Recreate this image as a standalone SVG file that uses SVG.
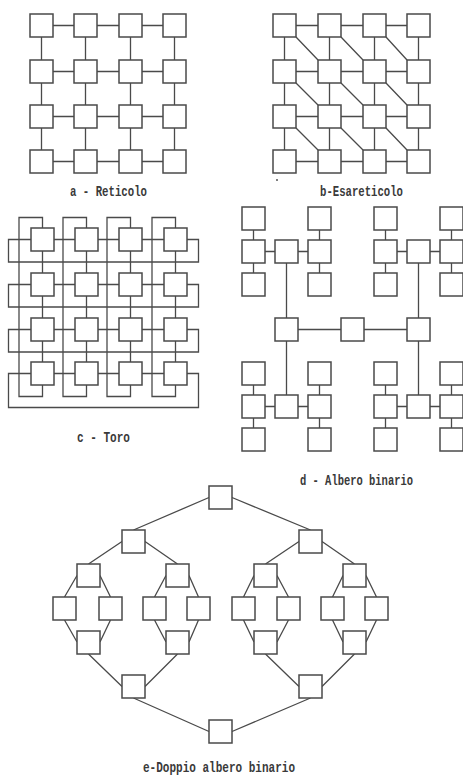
<svg xmlns="http://www.w3.org/2000/svg" width="463" height="778" viewBox="0 0 463 778">
<style>
.n{fill:#fff;stroke:#4a4a4a;stroke-width:1.5}
.e{fill:none;stroke:#4a4a4a;stroke-width:1.3}
.t{font-family:"Liberation Mono","DejaVu Sans Mono",monospace;font-size:15px;font-weight:bold;fill:#3a3a3a}
</style>
<defs>
<rect id="b" class="n" width="23" height="23"/>
</defs>
<rect width="463" height="778" fill="#fff"/>
<g id="connectors" class="e">
<!-- a: reticolo -->
<path d="M41.5,25.5H174.5M41.5,71.5H174.5M41.5,116.5H174.5M41.5,161.5H174.5M41.5,25.5V161.5M85.5,25.5V161.5M130.5,25.5V161.5M174.5,25.5V161.5"/>
<!-- b: esareticolo -->
<path d="M284.5,25.5H418.5M284.5,71.5H418.5M284.5,116.5H418.5M284.5,161.5H418.5M284.5,25.5V161.5M329.5,25.5V161.5M374.5,25.5V161.5M418.5,25.5V161.5"/>
<path d="M296,37L318,60M341,37L363,60M386,37L407,60M296,83L318,105M341,83L363,105M386,83L407,105M296,128L318,150M341,128L363,150M386,128L407,150"/>
<!-- c: toro -->
<path d="M8.5,239.5H198.5V262H8.5ZM8.5,284.5H198.5V307H8.5ZM8.5,329.5H198.5V352H8.5ZM8.5,373.5H198.5V407.5H8.5Z"/>
<path d="M19,217.5H42.5V396.5H19ZM63,217.5H86.5V396.5H63ZM107,217.5H130.5V396.5H107ZM152,217.5H175.5V396.5H152Z"/>
<!-- d: albero binario -->
<path d="M253.5,218.5V284.5M319.5,218.5V284.5M253.5,251.5H319.5M286.5,251.5V406.5M385.5,218.5V284.5M451.5,218.5V284.5M385.5,251.5H451.5M418.5,251.5V406.5M286.5,329.5H418.5M253.5,373.5V439.5M319.5,373.5V439.5M253.5,406.5H319.5M385.5,373.5V439.5M451.5,373.5V439.5M385.5,406.5H451.5"/>
<!-- e: doppio albero binario -->
<path d="M209,497.5L133.5,530M232,497.5L310.5,530"/>
<path d="M122,541.5L88.5,564M145,541.5L177.5,564M299,541.5L265.5,564M322,541.5L354.5,564"/>
<path d="M77,575.5L64.5,597M100,575.5L110.5,597M166,575.5L154.5,597M189,575.5L198.5,597M254,575.5L243.5,597M277,575.5L288.5,597M343,575.5L332.5,597M366,575.5L376.5,597"/>
<path d="M64.5,620L77,642M110.5,620L100,642M154.5,620L166,642M198.5,620L189,642M243.5,620L254,642M288.5,620L277,642M332.5,620L343,642M376.5,620L366,642"/>
<path d="M88.5,654L122,686.5M177.5,654L145,686.5M265.5,654L299,686.5M354.5,654L322,686.5"/>
<path d="M133.5,698L209,731.5M310.5,698L232,731.5"/>
</g>
<g id="panel-a">
<g id="a-0-0"><use href="#b" x="30" y="14"/></g><g id="a-0-1"><use href="#b" x="74" y="14"/></g><g id="a-0-2"><use href="#b" x="119" y="14"/></g><g id="a-0-3"><use href="#b" x="163" y="14"/></g>
<g id="a-1-0"><use href="#b" x="30" y="60"/></g><g id="a-1-1"><use href="#b" x="74" y="60"/></g><g id="a-1-2"><use href="#b" x="119" y="60"/></g><g id="a-1-3"><use href="#b" x="163" y="60"/></g>
<g id="a-2-0"><use href="#b" x="30" y="105"/></g><g id="a-2-1"><use href="#b" x="74" y="105"/></g><g id="a-2-2"><use href="#b" x="119" y="105"/></g><g id="a-2-3"><use href="#b" x="163" y="105"/></g>
<g id="a-3-0"><use href="#b" x="30" y="150"/></g><g id="a-3-1"><use href="#b" x="74" y="150"/></g><g id="a-3-2"><use href="#b" x="119" y="150"/></g><g id="a-3-3"><use href="#b" x="163" y="150"/></g>
<text class="t" x="70" y="196" textLength="77" lengthAdjust="spacingAndGlyphs">a - Reticolo</text>
</g>
<g id="panel-b">
<g id="b-0-0"><use href="#b" x="273" y="14"/></g><g id="b-0-1"><use href="#b" x="318" y="14"/></g><g id="b-0-2"><use href="#b" x="363" y="14"/></g><g id="b-0-3"><use href="#b" x="407" y="14"/></g>
<g id="b-1-0"><use href="#b" x="273" y="60"/></g><g id="b-1-1"><use href="#b" x="318" y="60"/></g><g id="b-1-2"><use href="#b" x="363" y="60"/></g><g id="b-1-3"><use href="#b" x="407" y="60"/></g>
<g id="b-2-0"><use href="#b" x="273" y="105"/></g><g id="b-2-1"><use href="#b" x="318" y="105"/></g><g id="b-2-2"><use href="#b" x="363" y="105"/></g><g id="b-2-3"><use href="#b" x="407" y="105"/></g>
<g id="b-3-0"><use href="#b" x="273" y="150"/></g><g id="b-3-1"><use href="#b" x="318" y="150"/></g><g id="b-3-2"><use href="#b" x="363" y="150"/></g><g id="b-3-3"><use href="#b" x="407" y="150"/></g>
<circle cx="277" cy="180" r="1" fill="#555"/>
<text class="t" x="320" y="196" textLength="83" lengthAdjust="spacingAndGlyphs">b-Esareticolo</text>
</g>
<g id="panel-c">
<g id="c-0-0"><use href="#b" x="31" y="228"/></g><g id="c-0-1"><use href="#b" x="75" y="228"/></g><g id="c-0-2"><use href="#b" x="119" y="228"/></g><g id="c-0-3"><use href="#b" x="164" y="228"/></g>
<g id="c-1-0"><use href="#b" x="31" y="273"/></g><g id="c-1-1"><use href="#b" x="75" y="273"/></g><g id="c-1-2"><use href="#b" x="119" y="273"/></g><g id="c-1-3"><use href="#b" x="164" y="273"/></g>
<g id="c-2-0"><use href="#b" x="31" y="318"/></g><g id="c-2-1"><use href="#b" x="75" y="318"/></g><g id="c-2-2"><use href="#b" x="119" y="318"/></g><g id="c-2-3"><use href="#b" x="164" y="318"/></g>
<g id="c-3-0"><use href="#b" x="31" y="362"/></g><g id="c-3-1"><use href="#b" x="75" y="362"/></g><g id="c-3-2"><use href="#b" x="119" y="362"/></g><g id="c-3-3"><use href="#b" x="164" y="362"/></g>
<text class="t" x="77" y="442" textLength="53" lengthAdjust="spacingAndGlyphs">c - Toro</text>
</g>
<g id="panel-d">
<g id="d-tl-l1"><use href="#b" x="242" y="207"/></g><g id="d-tl-r1"><use href="#b" x="308" y="207"/></g>
<g id="d-tl-l"><use href="#b" x="242" y="240"/></g><g id="d-tl-c"><use href="#b" x="275" y="240"/></g><g id="d-tl-r"><use href="#b" x="308" y="240"/></g>
<g id="d-tl-l2"><use href="#b" x="242" y="273"/></g><g id="d-tl-r2"><use href="#b" x="308" y="273"/></g>
<g id="d-tr-l1"><use href="#b" x="374" y="207"/></g><g id="d-tr-r1"><use href="#b" x="440" y="207"/></g>
<g id="d-tr-l"><use href="#b" x="374" y="240"/></g><g id="d-tr-c"><use href="#b" x="407" y="240"/></g><g id="d-tr-r"><use href="#b" x="440" y="240"/></g>
<g id="d-tr-l2"><use href="#b" x="374" y="273"/></g><g id="d-tr-r2"><use href="#b" x="440" y="273"/></g>
<g id="d-m-l"><use href="#b" x="275" y="318"/></g><g id="d-m-c"><use href="#b" x="341" y="318"/></g><g id="d-m-r"><use href="#b" x="407" y="318"/></g>
<g id="d-bl-l1"><use href="#b" x="242" y="362"/></g><g id="d-bl-r1"><use href="#b" x="308" y="362"/></g>
<g id="d-bl-l"><use href="#b" x="242" y="395"/></g><g id="d-bl-c"><use href="#b" x="275" y="395"/></g><g id="d-bl-r"><use href="#b" x="308" y="395"/></g>
<g id="d-bl-l2"><use href="#b" x="242" y="428"/></g><g id="d-bl-r2"><use href="#b" x="308" y="428"/></g>
<g id="d-br-l1"><use href="#b" x="374" y="362"/></g><g id="d-br-r1"><use href="#b" x="440" y="362"/></g>
<g id="d-br-l"><use href="#b" x="374" y="395"/></g><g id="d-br-c"><use href="#b" x="407" y="395"/></g><g id="d-br-r"><use href="#b" x="440" y="395"/></g>
<g id="d-br-l2"><use href="#b" x="374" y="428"/></g><g id="d-br-r2"><use href="#b" x="440" y="428"/></g>
<text class="t" x="300" y="485" textLength="113" lengthAdjust="spacingAndGlyphs">d - Albero binario</text>
</g>
<g id="panel-e">
<g id="e-top"><use href="#b" x="209" y="486"/></g>
<g id="e-1a"><use href="#b" x="122" y="530"/></g><g id="e-1b"><use href="#b" x="299" y="530"/></g>
<g id="e-2a"><use href="#b" x="77" y="564"/></g><g id="e-2b"><use href="#b" x="166" y="564"/></g><g id="e-2c"><use href="#b" x="254" y="564"/></g><g id="e-2d"><use href="#b" x="343" y="564"/></g>
<g id="e-3a"><use href="#b" x="53" y="597"/></g><g id="e-3b"><use href="#b" x="99" y="597"/></g><g id="e-3c"><use href="#b" x="143" y="597"/></g><g id="e-3d"><use href="#b" x="187" y="597"/></g>
<g id="e-3e"><use href="#b" x="232" y="597"/></g><g id="e-3f"><use href="#b" x="277" y="597"/></g><g id="e-3g"><use href="#b" x="321" y="597"/></g><g id="e-3h"><use href="#b" x="365" y="597"/></g>
<g id="e-4a"><use href="#b" x="77" y="631"/></g><g id="e-4b"><use href="#b" x="166" y="631"/></g><g id="e-4c"><use href="#b" x="254" y="631"/></g><g id="e-4d"><use href="#b" x="343" y="631"/></g>
<g id="e-5a"><use href="#b" x="122" y="675"/></g><g id="e-5b"><use href="#b" x="299" y="675"/></g>
<g id="e-bottom"><use href="#b" x="209" y="720"/></g>
<text class="t" x="143" y="772" textLength="152" lengthAdjust="spacingAndGlyphs">e-Doppio albero binario</text>
</g>
</svg>
